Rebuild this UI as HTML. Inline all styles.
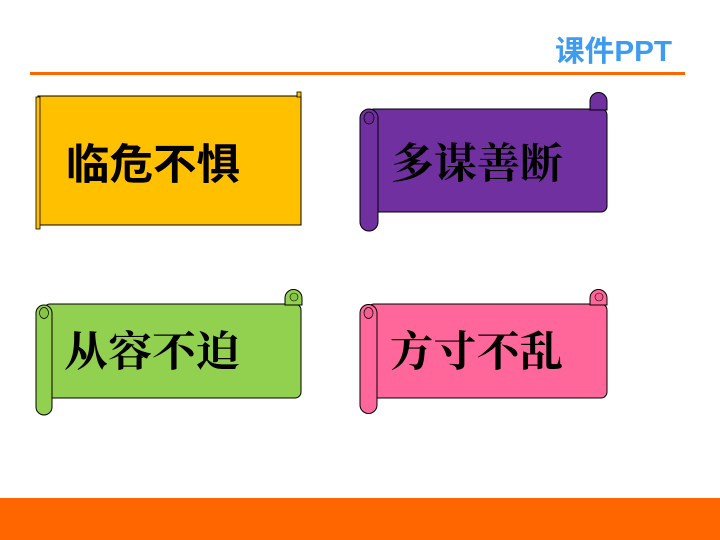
<!DOCTYPE html>
<html><head><meta charset="utf-8"><style>
html,body{margin:0;padding:0;background:#fff;}
svg{display:block;}
.h{font-family:"Liberation Sans","Noto Sans CJK SC",sans-serif;font-weight:bold;}
.k{font-family:"Liberation Serif","Noto Serif CJK SC",serif;font-weight:bold;}
.s{font-family:"Liberation Sans","Noto Sans CJK SC",sans-serif;font-weight:bold;}
</style></head><body>
<svg width="720" height="540" viewBox="0 0 720 540">
<text x="555" y="61" class="h" font-size="29" fill="#3d9bf0" textLength="117" lengthAdjust="spacingAndGlyphs">课件PPT</text>
<rect x="30" y="72" width="655" height="3" fill="#ff6600"/>
<rect x="0" y="498" width="720" height="42" fill="#ff6600"/>

<g>
<rect x="38" y="96" width="263" height="129" fill="#ffc000" stroke="#000" stroke-width="1"/>
<rect x="36" y="97" width="4" height="132" fill="#ffc000" stroke="#000" stroke-width="0.8"/>
<rect x="297" y="92" width="4" height="5" fill="#ffc000" stroke="#000" stroke-width="0.8"/>
<text x="66" y="179" class="s" font-size="42" fill="#000" textLength="174" lengthAdjust="spacingAndGlyphs">临危不惧</text>
</g>

<g>
<rect x="368" y="109" width="239" height="103" rx="6" fill="#7030a0" stroke="#000" stroke-width="1"/>
<path d="M360,118 A9,9 0 0 1 378,118 L378,222 A9,9 0 0 1 360,222 Z" fill="#7030a0" stroke="#000" stroke-width="1"/>
<ellipse cx="369" cy="118" rx="5" ry="6" fill="#6a2b98" stroke="#000" stroke-width="0.7"/>
<path d="M590,101 A8.5,8.5 0 0 1 607,101 L607,110 L590,110 Z" fill="#7030a0" stroke="#000" stroke-width="1"/>
<text x="391" y="178" class="k" font-size="42" fill="#000" textLength="172" lengthAdjust="spacingAndGlyphs">多谋善断</text>
</g>

<g>
<rect x="44" y="304" width="257" height="94" rx="6" fill="#92d050" stroke="#000" stroke-width="1"/>
<path d="M36,313 A8,8 0 0 1 52,313 L52,407 A8,8 0 0 1 36,407 Z" fill="#92d050" stroke="#000" stroke-width="1"/>
<ellipse cx="44" cy="313" rx="4.5" ry="5.5" fill="#86c446" stroke="#000" stroke-width="0.7"/>
<path d="M285,298 A8.5,8.5 0 0 1 302,298 L302,305 L285,305 Z" fill="#92d050" stroke="#000" stroke-width="1"/>
<ellipse cx="294" cy="297" rx="4" ry="4" fill="#86c446" stroke="#000" stroke-width="0.6"/>
<text x="64" y="366" class="k" font-size="42" fill="#000" textLength="176" lengthAdjust="spacingAndGlyphs">从容不迫</text>
</g>

<g>
<rect x="368" y="304" width="239" height="94" rx="6" fill="#ff6699" stroke="#000" stroke-width="1"/>
<path d="M360,313 A8.5,8.5 0 0 1 377,313 L377,405 A8.5,8.5 0 0 1 360,405 Z" fill="#ff6699" stroke="#000" stroke-width="1"/>
<ellipse cx="368.5" cy="313" rx="4.5" ry="5.5" fill="#f55e90" stroke="#000" stroke-width="0.7"/>
<path d="M590,298 A8.5,8.5 0 0 1 607,298 L607,305 L590,305 Z" fill="#ff6699" stroke="#000" stroke-width="1"/>
<ellipse cx="599" cy="297" rx="4" ry="4" fill="#f55e90" stroke="#000" stroke-width="0.6"/>
<text x="390" y="366" class="k" font-size="42" fill="#000" textLength="173" lengthAdjust="spacingAndGlyphs">方寸不乱</text>
</g>
</svg>
</body></html>
